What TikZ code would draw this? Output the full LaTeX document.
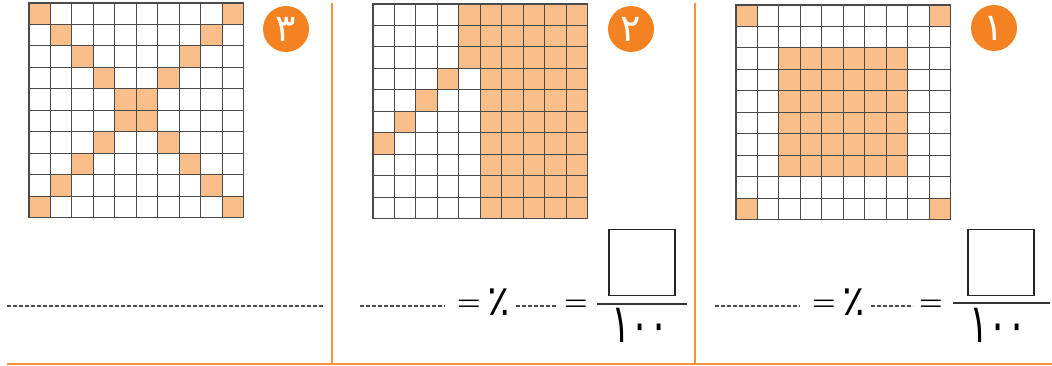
\documentclass[tikz,border=0pt]{standalone}
\usepackage{fontspec}
\newfontfamily\arabicfont[Script=Arabic]{DejaVu Sans}

\definecolor{cellfill}{HTML}{F9BE8A}
\definecolor{badgeorange}{HTML}{F58220}
\definecolor{ruleorange}{HTML}{F7923A}
\definecolor{gridline}{HTML}{4A4A4A}

\newcommand{\cellsz}{21.45}
% 10x10 grid lines in the current scope
\newcommand{\gridlines}{%
  \foreach \i in {0,...,10} {
    \draw[cellline] (\i*\cellsz,0) -- (\i*\cellsz,10*\cellsz);
    \draw[cellline] (0,\i*\cellsz) -- (10*\cellsz,\i*\cellsz);
  }
  \draw[cellline,line width=1.4] (0,0) rectangle (10*\cellsz,10*\cellsz);
}
\newcommand{\hundred}{\scalebox{0.66}[1]{١٠٠}}

\tikzset{
  cellline/.style={draw=gridline,line width=0.9},
  badge/.style={circle,fill=badgeorange,minimum size=46,inner sep=0,text=white,
    font=\arabicfont\fontsize{38}{38}\selectfont},
  dotline/.style={gridline,line width=1.2,dash pattern=on 4 off 2},
  eqsign/.style={inner sep=0,font=\bfseries\fontsize{27}{27}\selectfont},
  pctsign/.style={inner sep=0,font=\arabicfont\fontsize{42}{42}\selectfont},
  denom/.style={inner sep=0,font=\arabicfont\fontsize{54}{54}\selectfont},
  answerbox/.style={draw=black!85,line width=1.6,minimum size=66,inner sep=0},
  fracbar/.style={black!80,line width=1.2},
  panelrule/.style={ruleorange,line width=1.5}
}

\begin{document}
\begin{tikzpicture}[x=1pt,y=-1pt]
  \useasboundingbox (0,0) rectangle (1052,366);

  % Panel frame
  \draw[panelrule] (332,3) -- (332,364);
  \draw[panelrule] (695,3) -- (695,364);
  \draw[panelrule] (7,364) -- (1052,364);

  % Grid 3: the two diagonals
  \begin{scope}[shift={(29,3)}]
    \foreach \r in {0,...,9} {
      \fill[cellfill] (\r*\cellsz,\r*\cellsz) rectangle ++(\cellsz,\cellsz);
      \fill[cellfill] ({(9-\r)*\cellsz},\r*\cellsz) rectangle ++(\cellsz,\cellsz);
    }
    \gridlines
  \end{scope}
  \node[badge] (badgeC) at (286,29) {٣};
  \draw[dotline] (7,306) -- (325,306);

  % Grid 2: right block and a short diagonal
  \begin{scope}[shift={(373,4)}]
    \foreach \r in {0,1,2}
      \fill[cellfill] (4*\cellsz,\r*\cellsz) rectangle ++(6*\cellsz,\cellsz);
    \fill[cellfill] (5*\cellsz,3*\cellsz) rectangle (10*\cellsz,10*\cellsz);
    \foreach \r/\c in {3/3,4/2,5/1,6/0}
      \fill[cellfill] (\c*\cellsz,\r*\cellsz) rectangle ++(\cellsz,\cellsz);
    \gridlines
  \end{scope}
  \node[badge] (badgeB) at (631,29) {٢};

  % Answer line, panel 2
  \draw[dotline] (360,306) -- (445,306);
  \node[eqsign] (eqB1) at (469,305) {=};
  \node[pctsign] (pctB) at (499,302) {٪};
  \draw[dotline] (516,306) -- (558,306);
  \node[eqsign] (eqB2) at (576,305) {=};
  \node[answerbox] (boxB) at (642,262.5) {};
  \draw[fracbar] (597,304) -- (687,304);
  \node[denom] (denB) at (640,325) {\hundred};

  % Grid 1: central square and corners
  \begin{scope}[shift={(736,5)}]
    \fill[cellfill] (2*\cellsz,2*\cellsz) rectangle (8*\cellsz,8*\cellsz);
    \foreach \r/\c in {0/0,0/9,9/0,9/9}
      \fill[cellfill] (\c*\cellsz,\r*\cellsz) rectangle ++(\cellsz,\cellsz);
    \gridlines
  \end{scope}
  \node[badge] (badgeA) at (994,28) {١};

  % Answer line, panel 1
  \draw[dotline] (715,306) -- (800,306);
  \node[eqsign] (eqA1) at (824,305) {=};
  \node[pctsign] (pctA) at (854,302) {٪};
  \draw[dotline] (871,306) -- (913,306);
  \node[eqsign] (eqA2) at (931,305) {=};
  \node[answerbox] (boxA) at (1001,262.5) {};
  \draw[fracbar] (953,303) -- (1050,303);
  \node[denom] (denA) at (998,325) {\hundred};
\end{tikzpicture}
\end{document}
